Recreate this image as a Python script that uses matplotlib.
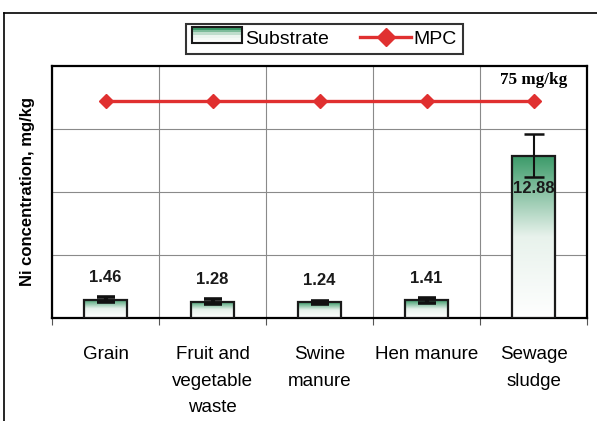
import numpy as np
import matplotlib
matplotlib.use('Agg')
from matplotlib import pyplot as plt
from matplotlib.colors import LinearSegmentedColormap
from matplotlib.legend_handler import HandlerBase
from matplotlib.patches import Rectangle
from matplotlib.lines import Line2D

plt.rcParams['font.family'] = ['Liberation Sans', 'DejaVu Sans']

# data
categories = ['Grain', 'Fruit and\nvegetable\nwaste', 'Swine\nmanure', 'Hen manure', 'Sewage\nsludge']
substrate = [1.46, 1.28, 1.24, 1.41, 12.88]
substrate_err = [0.2, 0.2, 0.1, 0.2, 1.7]
mpc = [17.2, 17.2, 17.2, 17.2, 17.2]   # drawn at broken-axis position
mpc_label = '75 mg/kg'

green = '#3a9a68'
cmap = LinearSegmentedColormap.from_list('g', ['#ffffff', '#e8f2ec', green])
grad = np.linspace(0, 1, 256).reshape(-1, 1)

fig = plt.figure(figsize=(5.97, 4.21), dpi=100)
ax = fig.add_axes([52/597, 1-318/421, 535/597, 252/421])

x = np.arange(len(categories))
w = 0.41
bars = ax.bar(x, substrate, width=w, facecolor='none', edgecolor='#1a1a1a', linewidth=1.6, zorder=4)
for b in bars:
    x0, y0 = b.get_x(), b.get_y()
    ax.imshow(grad, cmap=cmap, aspect='auto', origin='lower',
              extent=[x0, x0 + b.get_width(), y0, y0 + b.get_height()], zorder=3)
ax.errorbar(x[:-1], substrate[:-1], yerr=substrate_err[:-1], fmt='none', ecolor='#111111',
            elinewidth=3, capsize=6.5, capthick=2.6, zorder=5)
ax.errorbar(x[-1:], substrate[-1:], yerr=substrate_err[-1:], fmt='none', ecolor='#111111',
            elinewidth=1.5, capsize=7, capthick=1.8, zorder=5)

ax.plot(x, mpc, color='#e03030', lw=2.4, marker='D', markersize=7.5,
        markerfacecolor='#e03030', markeredgecolor='#e03030', zorder=6)
ax.text(x[-1], mpc[-1] + 1.05, mpc_label, ha='center', va='bottom',
        fontfamily='Liberation Serif', fontweight='bold', fontsize=12.3)

for xi, v in zip(x, substrate):
    if v > 10:
        ax.text(xi, v - 2.6, '%.2f' % v, ha='center', va='center', fontsize=12, fontweight='bold', color='#1a1a1a', zorder=7)
    else:
        ax.text(xi, v + 1.75, '%.2f' % v, ha='center', va='center', fontsize=12, fontweight='bold', color='#1a1a1a', zorder=7)

ax.set_xlim(-0.5, len(categories) - 0.5)
ax.set_ylim(0, 20)
ax.set_yticks([5, 10, 15])
ax.set_yticklabels([])
ax.tick_params(axis='y', length=0)
ax.set_xticks(np.arange(len(categories) + 1) - 0.5, minor=False)
ax.set_xticklabels([])
ax.tick_params(axis='x', which='major', length=5, width=0.8, color='#555555')
ax.set_xticks(x, minor=True)
ax.set_xticklabels(categories, minor=True, fontsize=13.5, linespacing=1.75, va='top')
ax.tick_params(axis='x', which='minor', length=0, pad=20)
ax.grid(True, which='major', color='#8a8a8a', lw=0.8, zorder=0)
for s in ax.spines.values():
    s.set_linewidth(1.6)
ax.set_ylabel('Ni concentration, mg/kg', fontsize=12, fontweight='bold', labelpad=9)


class GradHandler(HandlerBase):
    def create_artists(self, legend, orig, xd, yd, width, height, fontsize, trans):
        arts = []
        n = 6
        for i in range(n):
            c = cmap(1 - i / (n - 1) * 0.95)
            r = Rectangle((xd, yd + height * (n - 1 - i) / n), width, height / n,
                          facecolor=c, edgecolor='none', transform=trans)
            arts.append(r)
        arts.append(Rectangle((xd, yd), width, height, facecolor='none',
                              edgecolor='#1a1a1a', lw=1.5, transform=trans))
        return arts


h1 = Rectangle((0, 0), 1, 1)
h2 = Line2D([], [], color='#e03030', lw=2.4, marker='D', markersize=9)
leg = fig.legend([h1, h2], ['Substrate', 'MPC'], handler_map={h1: GradHandler()},
                 loc='center', bbox_to_anchor=((182+467)/2/597, 1-39/421), ncol=2,
                 fontsize=14, frameon=True, fancybox=False, edgecolor='black',
                 handlelength=2.6, handleheight=0.9, handletextpad=0.15, columnspacing=1.6,
                 borderpad=0.3, borderaxespad=0)
leg.get_frame().set_linewidth(1.5)

# outer chart frame
fig.add_artist(Line2D([4/597, 4/597], [0, 1-13/421], color='black', lw=1.2, transform=fig.transFigure))
fig.add_artist(Line2D([4/597, 1], [1-13/421, 1-13/421], color='black', lw=1.2, transform=fig.transFigure))

fig.savefig('out.png', dpi=100)
